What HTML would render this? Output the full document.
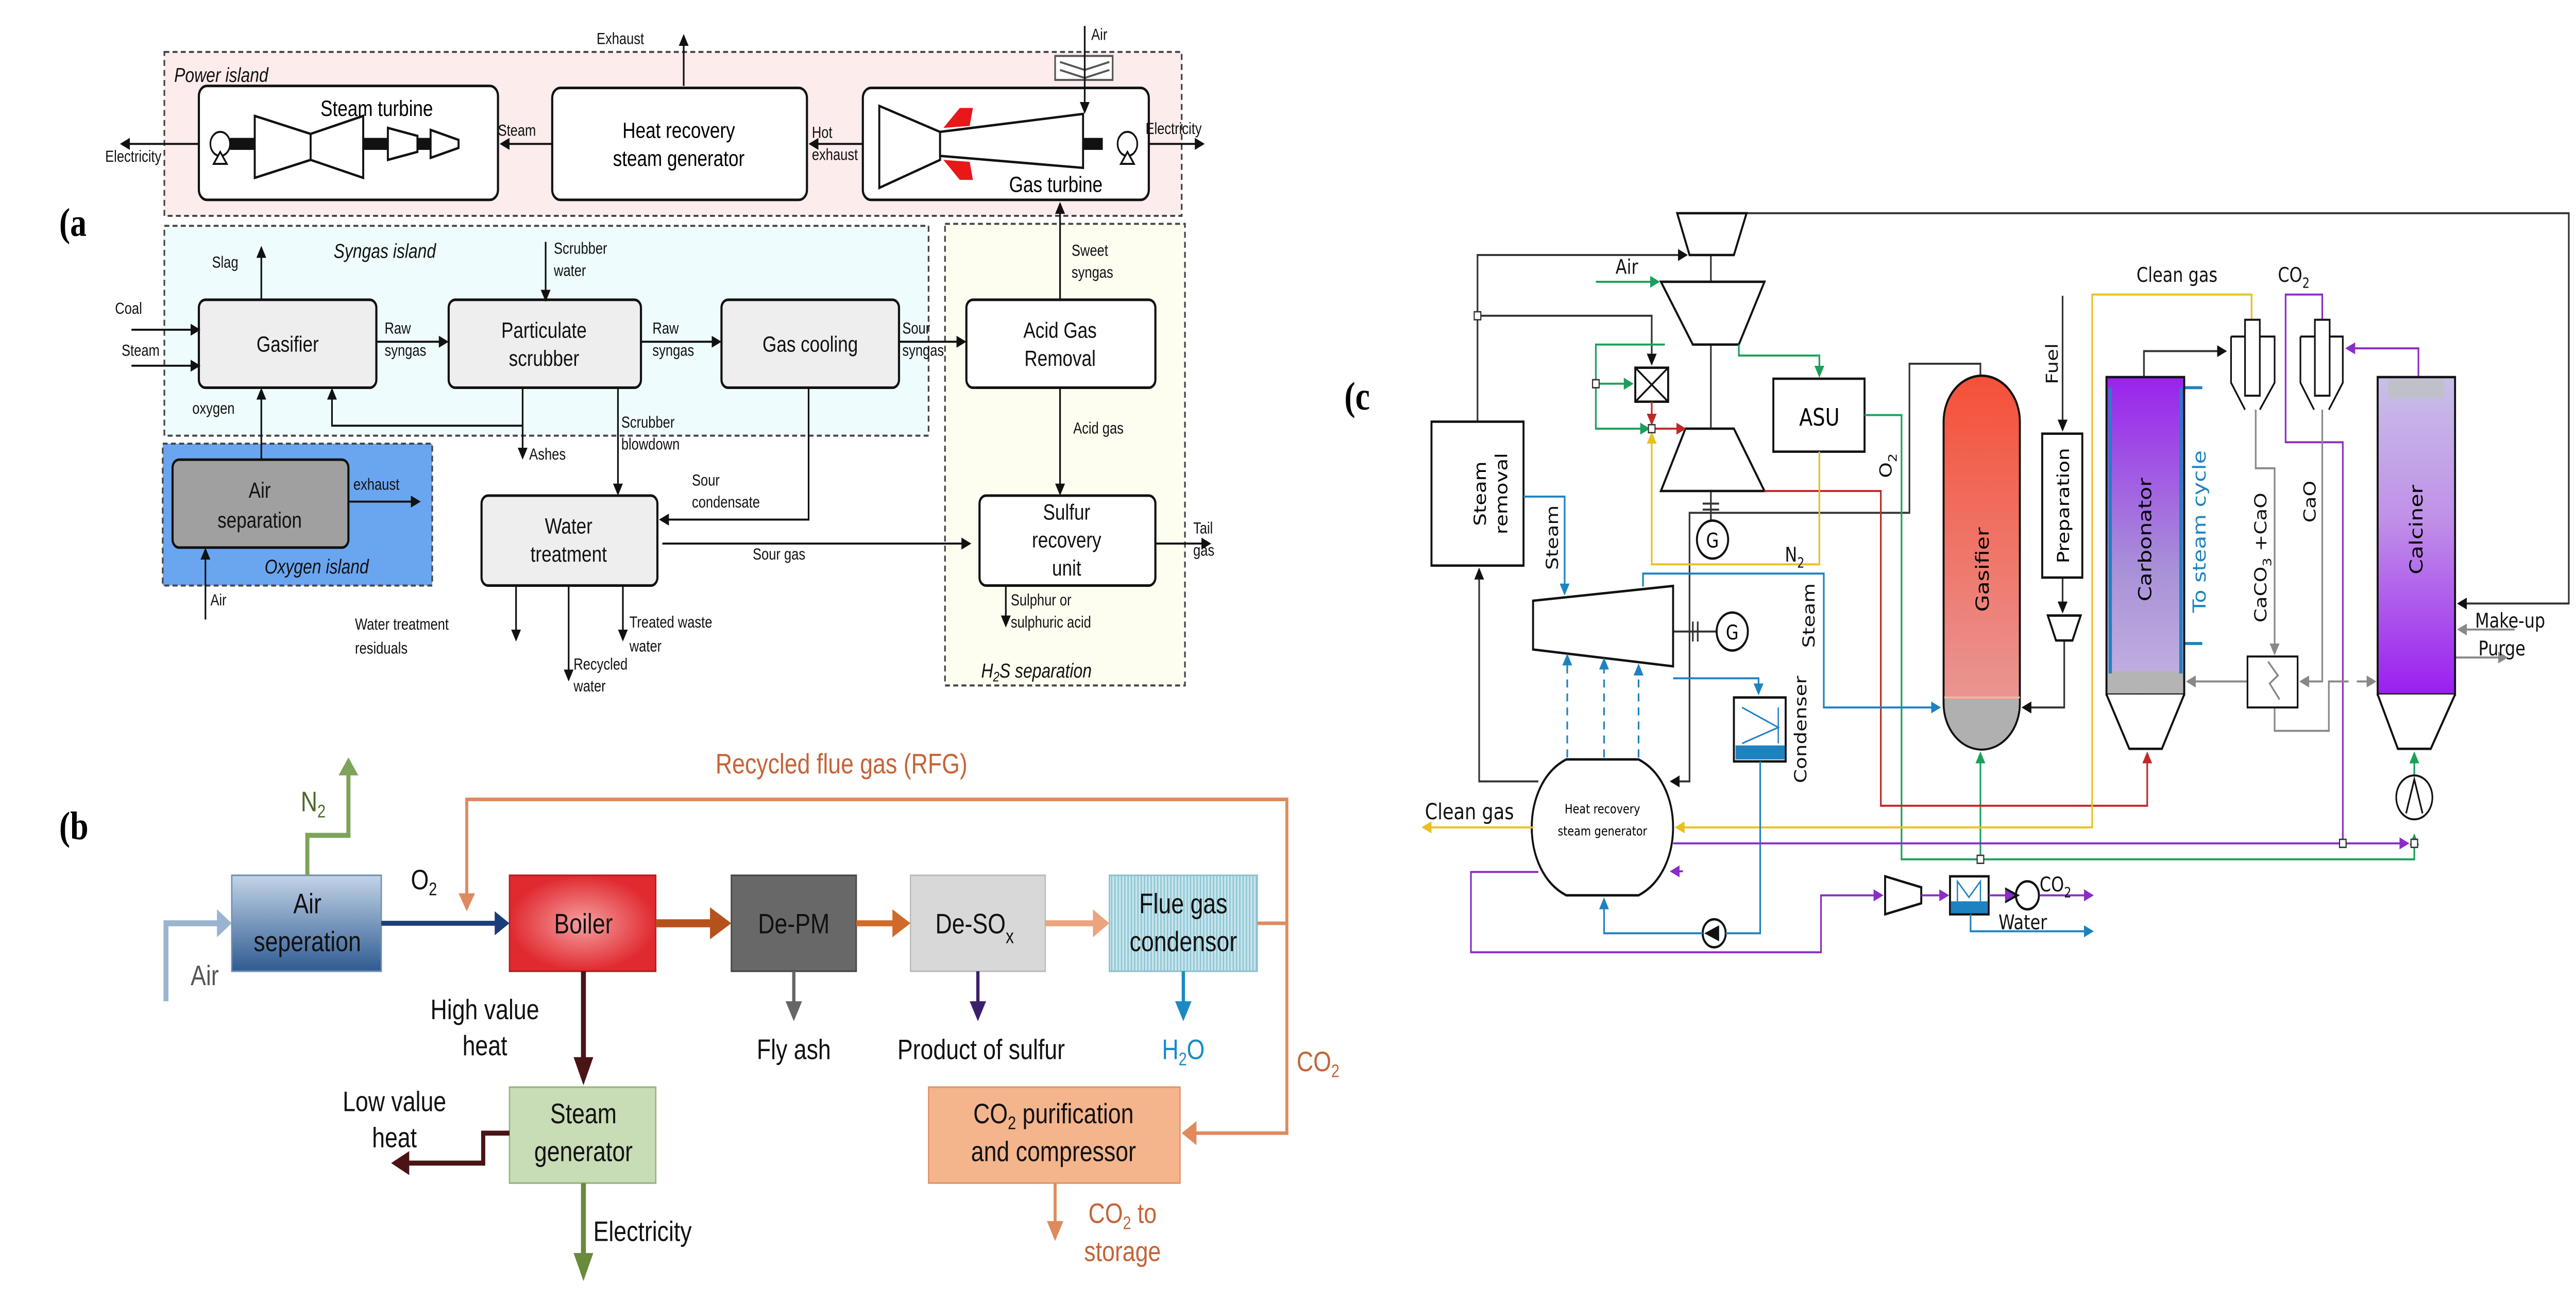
<!DOCTYPE html>
<html><head><meta charset="utf-8"><style>
html,body{margin:0;padding:0;background:#fff;width:6077px;height:2525px;overflow:hidden;}
svg{display:block;}
text{font-family:"Liberation Sans Narrow","Liberation Sans",sans-serif;}
.c text{font-family:"DejaVu Sans","Liberation Sans",sans-serif;}
</style></head><body>
<svg width="6077" height="2525" style="width:6077px;height:2525px" viewBox="0 0 1905 651" preserveAspectRatio="none" xmlns="http://www.w3.org/2000/svg">
<defs>
<marker id="ak" markerWidth="6" markerHeight="6" refX="5" refY="3" orient="auto" markerUnits="userSpaceOnUse"><path d="M0,0L6,3L0,6z" fill="#111"/></marker>
<marker id="ag" markerWidth="6" markerHeight="6" refX="5" refY="3" orient="auto" markerUnits="userSpaceOnUse"><path d="M0,0L6,3L0,6z" fill="#1aa05a"/></marker>
<marker id="ar" markerWidth="6" markerHeight="6" refX="5" refY="3" orient="auto" markerUnits="userSpaceOnUse"><path d="M0,0L6,3L0,6z" fill="#c0282a"/></marker>
<marker id="ay" markerWidth="6" markerHeight="6" refX="5" refY="3" orient="auto" markerUnits="userSpaceOnUse"><path d="M0,0L6,3L0,6z" fill="#e8c020"/></marker>
<marker id="ab" markerWidth="6" markerHeight="6" refX="5" refY="3" orient="auto" markerUnits="userSpaceOnUse"><path d="M0,0L6,3L0,6z" fill="#1f82c0"/></marker>
<marker id="ap" markerWidth="6" markerHeight="6" refX="5" refY="3" orient="auto" markerUnits="userSpaceOnUse"><path d="M0,0L6,3L0,6z" fill="#8a2cc8"/></marker>
<marker id="aG" markerWidth="6" markerHeight="6" refX="5" refY="3" orient="auto" markerUnits="userSpaceOnUse"><path d="M0,0L6,3L0,6z" fill="#888"/></marker>
<linearGradient id="gAir" x1="0" y1="0" x2="0" y2="1"><stop offset="0" stop-color="#c3d4e6"/><stop offset="1" stop-color="#2f5b92"/></linearGradient>
<radialGradient id="gBoil"><stop offset="0" stop-color="#f6a0a0"/><stop offset="1" stop-color="#e02a30"/></radialGradient>
<pattern id="stripe" width="2" height="4" patternUnits="userSpaceOnUse"><rect width="2" height="4" fill="#c6e6ee"/><rect width="0.8" height="4" fill="#8fc4d2"/></pattern>
<linearGradient id="gGas" x1="0" y1="0" x2="0" y2="1"><stop offset="0" stop-color="#f55038"/><stop offset="1" stop-color="#e8a0a0"/></linearGradient>
<linearGradient id="gCarb" x1="0" y1="0" x2="0" y2="1"><stop offset="0" stop-color="#9a22ee"/><stop offset="0.6" stop-color="#a890d8"/><stop offset="1" stop-color="#c4b4e0"/></linearGradient>
<linearGradient id="gCalc" x1="0" y1="0" x2="0" y2="1"><stop offset="0" stop-color="#c8c0e8"/><stop offset="0.45" stop-color="#c090e8"/><stop offset="1" stop-color="#9a1ef0"/></linearGradient>
</defs>

<!-- ================= PANEL A ================= -->
<text x="36" y="118" font-weight="bold" font-size="20" style="font-family:'Liberation Serif',serif">(a</text>
<rect x="100" y="26" width="619" height="82" fill="#fdecec" stroke="#444" stroke-width="1" stroke-dasharray="3,2"/>
<rect x="100" y="113" width="465" height="105" fill="#eefcfd" stroke="#444" stroke-width="1" stroke-dasharray="3,2"/>
<rect x="575" y="112" width="146" height="231" fill="#fdfdf0" stroke="#444" stroke-width="1" stroke-dasharray="3,2"/>
<rect x="99" y="222" width="164" height="71" fill="#6aa6f0" stroke="#444" stroke-width="1" stroke-dasharray="3,2"/>
<g font-size="9" fill="#111">
<text x="106" y="41" font-style="italic" font-size="10">Power island</text>
<text x="203" y="129" font-style="italic" font-size="10">Syngas island</text>
<text x="161" y="287" font-style="italic" font-size="10">Oxygen island</text>
<text x="597" y="339" font-style="italic" font-size="10">H<tspan font-size="7" dy="2">2</tspan><tspan dy="-2">S separation</tspan></text>
</g>
<rect x="121" y="43" width="182" height="57" rx="5" fill="#fff" stroke="#111" stroke-width="1.3"/>
<rect x="336" y="44" width="155" height="56" rx="5" fill="#fff" stroke="#111" stroke-width="1.3"/>
<rect x="525" y="44" width="174" height="56" rx="5" fill="#fff" stroke="#111" stroke-width="1.3"/>
<circle cx="134" cy="72" r="6" fill="#fff" stroke="#111"/><path d="M130,82h8l-4,-6z" fill="#fff" stroke="#111"/>
<rect x="140" y="69" width="15" height="6" fill="#111"/>
<path d="M155,58L189,67V80L155,89z M189,67L221,58V89L189,80z" fill="#fff" stroke="#111" stroke-width="1.2"/>
<rect x="221" y="69" width="15" height="6" fill="#111"/>
<path d="M236,64L254,68V76L236,80z" fill="#fff" stroke="#111" stroke-width="1.2"/>
<rect x="254" y="69" width="8" height="6" fill="#111"/>
<path d="M262,65L279,70V74L262,79z" fill="#fff" stroke="#111" stroke-width="1.2"/>
<text x="195" y="58" font-size="11">Steam turbine</text>
<text x="413" y="69" font-size="11" text-anchor="middle">Heat recovery</text>
<text x="413" y="83" font-size="11" text-anchor="middle">steam generator</text>
<path d="M535,53L572,66V80L535,94z" fill="#fff" stroke="#111" stroke-width="1.2"/>
<path d="M572,66L659,57V84L572,78z" fill="#fff" stroke="#111" stroke-width="1.2"/>
<path d="M574,64l10,-10h8l-2,9z M574,80l10,10h8l-2,-9z" fill="#e81818"/>
<rect x="659" y="69" width="12" height="6" fill="#111"/>
<circle cx="686" cy="72" r="6" fill="#fff" stroke="#111"/><path d="M682,82h8l-4,-6z" fill="#fff" stroke="#111"/>
<text x="614" y="96" font-size="11">Gas turbine</text>
<rect x="642" y="28" width="35" height="12" fill="#fff" stroke="#555"/>
<path d="M645,31l15,4l15,-4M645,35l15,4l15,-4" fill="none" stroke="#555"/>
<g stroke="#111" stroke-width="1" fill="none" marker-end="url(#ak)">
<line x1="416" y1="43" x2="416" y2="18"/>
<line x1="660" y1="13" x2="660" y2="56"/>
<line x1="121" y1="72" x2="74" y2="72"/>
<line x1="699" y1="72" x2="732" y2="72"/>
<line x1="336" y1="72" x2="305" y2="72"/>
<line x1="525" y1="72" x2="493" y2="72"/>
</g>
<g font-size="8" fill="#111">
<text x="363" y="22">Exhaust</text><text x="664" y="20">Air</text>
<text x="64" y="81">Electricity</text><text x="697" y="67">Electricity</text>
<text x="303" y="68">Steam</text><text x="494" y="69">Hot</text><text x="494" y="80">exhaust</text>
</g>
<g stroke="#111" stroke-width="1.3">
<rect x="121" y="150" width="108" height="44" rx="4" fill="#eee"/>
<rect x="273" y="150" width="117" height="44" rx="4" fill="#eee"/>
<rect x="439" y="150" width="108" height="44" rx="4" fill="#eee"/>
<rect x="588" y="150" width="115" height="44" rx="4" fill="#fff"/>
<rect x="105" y="230" width="107" height="44" rx="4" fill="#a0a0a0"/>
<rect x="293" y="248" width="107" height="45" rx="4" fill="#eee"/>
<rect x="596" y="248" width="107" height="45" rx="4" fill="#fff"/>
</g>
<g font-size="11" fill="#111" text-anchor="middle">
<text x="175" y="176">Gasifier</text>
<text x="331" y="169">Particulate</text><text x="331" y="183">scrubber</text>
<text x="493" y="176">Gas cooling</text>
<text x="645" y="169">Acid Gas</text><text x="645" y="183">Removal</text>
<text x="158" y="249">Air</text><text x="158" y="264">separation</text>
<text x="346" y="267">Water</text><text x="346" y="281">treatment</text>
<text x="649" y="260">Sulfur</text><text x="649" y="274">recovery</text><text x="649" y="288">unit</text>
</g>
<g stroke="#111" stroke-width="1" fill="none" marker-end="url(#ak)">
<line x1="159" y1="150" x2="159" y2="124"/>
<line x1="332" y1="121" x2="332" y2="150"/>
<line x1="80" y1="165" x2="121" y2="165"/>
<line x1="80" y1="183" x2="121" y2="183"/>
<line x1="229" y1="171" x2="272" y2="171"/>
<line x1="390" y1="171" x2="438" y2="171"/>
<line x1="547" y1="171" x2="587" y2="171"/>
<line x1="645" y1="150" x2="645" y2="102"/>
<line x1="645" y1="194" x2="645" y2="247"/>
<line x1="159" y1="230" x2="159" y2="195"/>
<polyline points="318,194 318,213 202,213 202,195"/>
<line x1="318" y1="213" x2="318" y2="229"/>
<line x1="376" y1="194" x2="376" y2="247"/>
<polyline points="492,194 492,260 402,260"/>
<line x1="403" y1="272" x2="590" y2="272"/>
<line x1="703" y1="272" x2="736" y2="272"/>
<line x1="612" y1="293" x2="612" y2="313"/>
<line x1="212" y1="251" x2="255" y2="251"/>
<line x1="125" y1="310" x2="125" y2="275"/>
<line x1="314" y1="293" x2="314" y2="320"/>
<line x1="346" y1="293" x2="346" y2="340"/>
<line x1="379" y1="293" x2="379" y2="320"/>
</g>
<g font-size="8" fill="#111">
<text x="129" y="134">Slag</text>
<text x="337" y="127">Scrubber</text><text x="337" y="138">water</text>
<text x="70" y="157">Coal</text><text x="74" y="178">Steam</text>
<text x="234" y="167">Raw</text><text x="234" y="178">syngas</text>
<text x="397" y="167">Raw</text><text x="397" y="178">syngas</text>
<text x="549" y="167">Sour</text><text x="549" y="178">syngas</text>
<text x="652" y="128">Sweet</text><text x="652" y="139">syngas</text>
<text x="653" y="217">Acid gas</text>
<text x="117" y="207">oxygen</text>
<text x="322" y="230">Ashes</text>
<text x="378" y="214">Scrubber</text><text x="378" y="225">blowdown</text>
<text x="421" y="243">Sour</text><text x="421" y="254">condensate</text>
<text x="458" y="280">Sour gas</text>
<text x="726" y="267">Tail</text><text x="726" y="278">gas</text>
<text x="615" y="303">Sulphur or</text><text x="615" y="314">sulphuric acid</text>
<text x="215" y="245">exhaust</text>
<text x="128" y="303">Air</text>
<text x="216" y="315">Water treatment</text><text x="216" y="327">residuals</text>
<text x="349" y="335">Recycled</text><text x="349" y="346">water</text>
<text x="383" y="314">Treated waste</text><text x="383" y="326">water</text>
</g>

<!-- ================= PANEL B ================= -->
<text x="36" y="420" font-weight="bold" font-size="20" style="font-family:'Liberation Serif',serif">(b</text>
<rect x="141" y="438" width="91" height="48" fill="url(#gAir)" stroke="#6d8fb5" stroke-width="0.8"/>
<rect x="310" y="438" width="89" height="48" fill="url(#gBoil)" stroke="#b01c20" stroke-width="0.8"/>
<rect x="445" y="438" width="76" height="48" fill="#686868" stroke="#444" stroke-width="0.8"/>
<rect x="554" y="438" width="82" height="48" fill="#d8d8d8" stroke="#bbb" stroke-width="0.8"/>
<rect x="675" y="438" width="90" height="48" fill="url(#stripe)" stroke="#8fbfcc" stroke-width="0.8"/>
<rect x="310" y="544" width="89" height="48" fill="#c8dcb5" stroke="#97b37c" stroke-width="0.8"/>
<rect x="565" y="544" width="153" height="48" fill="#f4b48c" stroke="#e09466" stroke-width="0.8"/>
<g font-size="14" fill="#111" text-anchor="middle">
<text x="187" y="457">Air</text><text x="187" y="476">seperation</text>
<text x="355" y="467">Boiler</text>
<text x="483" y="467">De-PM</text>
<text x="593" y="467">De-SO<tspan font-size="10" dy="5">x</tspan></text>
<text x="720" y="457">Flue gas</text><text x="720" y="476">condensor</text>
<text x="355" y="562">Steam</text><text x="355" y="581">generator</text>
<text x="641" y="562">CO<tspan font-size="9" dy="3">2</tspan><tspan dy="-3"> purification</tspan></text><text x="641" y="581">and compressor</text>
</g>
<polyline points="101,501 101,462 133,462" fill="none" stroke="#9ab4d0" stroke-width="3"/>
<path d="M132,455l9,7l-9,7z" fill="#9ab4d0"/>
<polyline points="187,438 187,418 212,418 212,386" fill="none" stroke="#7ea35a" stroke-width="2.5"/>
<path d="M206,388l6,-9l6,9z" fill="#7ea35a"/>
<line x1="232" y1="462" x2="302" y2="462" stroke="#1c3e78" stroke-width="2.5"/>
<path d="M301,456l9,6l-9,6z" fill="#1c3e78"/>
<line x1="399" y1="462" x2="434" y2="462" stroke="#b5521c" stroke-width="4"/>
<path d="M432,454l13,8l-13,8z" fill="#b5521c"/>
<line x1="521" y1="462" x2="545" y2="462" stroke="#d06a2a" stroke-width="3"/>
<path d="M543,455l11,7l-11,7z" fill="#d06a2a"/>
<line x1="636" y1="462" x2="666" y2="462" stroke="#eaa47e" stroke-width="3"/>
<path d="M665,455l10,7l-10,7z" fill="#eaa47e"/>
<polyline points="765,462 783,462 783,400 284,400 284,448" fill="none" stroke="#df8a5c" stroke-width="1.8"/>
<path d="M279,447l5,9l5,-9z" fill="#df8a5c"/>
<polyline points="783,462 783,567 727,567" fill="none" stroke="#df8a5c" stroke-width="1.8"/>
<path d="M728,561l-9,6l9,6z" fill="#df8a5c"/>
<text x="512" y="387" font-size="14" fill="#c46438" text-anchor="middle">Recycled flue gas (RFG)</text>
<text x="789" y="536" font-size="14" fill="#c46438">CO<tspan font-size="9" dy="3">2</tspan></text>
<line x1="483" y1="486" x2="483" y2="502" stroke="#666" stroke-width="2"/><path d="M478,501l5,10l5,-10z" fill="#666"/>
<line x1="595" y1="486" x2="595" y2="502" stroke="#3b1f6b" stroke-width="2"/><path d="M590,501l5,10l5,-10z" fill="#3b1f6b"/>
<line x1="720" y1="486" x2="720" y2="502" stroke="#1a8ac4" stroke-width="2"/><path d="M715,501l5,10l5,-10z" fill="#1a8ac4"/>
<line x1="355" y1="486" x2="355" y2="530" stroke="#4a1414" stroke-width="3"/><path d="M349,529l6,14l6,-14z" fill="#4a1414"/>
<polyline points="310,567 294,567 294,582 248,582" fill="none" stroke="#4a1414" stroke-width="2.5"/><path d="M249,576l-11,6l11,6z" fill="#4a1414"/>
<line x1="355" y1="592" x2="355" y2="628" stroke="#6a8a3c" stroke-width="3"/><path d="M349,627l6,14l6,-14z" fill="#6a8a3c"/>
<line x1="642" y1="592" x2="642" y2="612" stroke="#df8a5c" stroke-width="1.8"/><path d="M637,611l5,10l5,-10z" fill="#df8a5c"/>
<g font-size="14" fill="#111">
<text x="250" y="445">O<tspan font-size="9" dy="3">2</tspan></text>
<text x="116" y="493" fill="#555">Air</text>
<text x="183" y="406" fill="#4a6a2a">N<tspan font-size="9" dy="3">2</tspan></text>
<text x="483" y="530" text-anchor="middle">Fly ash</text>
<text x="597" y="530" text-anchor="middle">Product of sulfur</text>
<text x="720" y="530" text-anchor="middle" fill="#1a8ac4">H<tspan font-size="9" dy="3">2</tspan><tspan dy="-3">O</tspan></text>
<text x="295" y="510" text-anchor="middle">High value</text><text x="295" y="528" text-anchor="middle">heat</text>
<text x="240" y="556" text-anchor="middle">Low value</text><text x="240" y="574" text-anchor="middle">heat</text>
<text x="361" y="621">Electricity</text>
<text x="683" y="612" text-anchor="middle" fill="#c46438">CO<tspan font-size="9" dy="3">2</tspan><tspan dy="-3"> to</tspan></text>
<text x="683" y="631" text-anchor="middle" fill="#c46438">storage</text>
</g>

<!-- ================= PANEL C ================= -->
<g class="c">
<text x="818" y="205" font-weight="bold" font-size="20" style="font-family:'Liberation Serif',serif">(c</text>
<g stroke="#333" stroke-width="1" fill="none">
<polyline points="1062,106.7 1563,106.7 1563,302 1496,302" marker-end="url(#ak)"/>
<polyline points="899,211 899,127.6 1026,127.6" marker-end="url(#ak)"/>
<polyline points="899,158 1005,158 1005,182" marker-end="url(#ak)"/>
<line x1="1041" y1="127.6" x2="1041" y2="141"/>
<line x1="1041" y1="172.4" x2="1041" y2="214.5"/>
<line x1="1041" y1="245.7" x2="1041" y2="260"/>
<line x1="1036" y1="252" x2="1046" y2="252"/><line x1="1036" y1="255" x2="1046" y2="255"/>
<polyline points="1205,188.7 1205,182 1161.8,182 1161.8,256.6 1028,256.6 1028,391 1017,391" marker-end="url(#ak)"/>
<polyline points="1255,148 1255,215" marker-end="url(#ak)"/>
<polyline points="1255,289 1255,306" marker-end="url(#ak)"/>
<polyline points="1256,320.5 1256,354 1231,354" marker-end="url(#ak)"/>
<polyline points="936,391 900,391 900,285" marker-end="url(#ak)"/>
<polyline points="1304.5,188.7 1304.5,175.7 1354,175.7" marker-end="url(#ak)"/>
<line x1="1018" y1="316" x2="1044" y2="316"/><line x1="1030" y1="311" x2="1030" y2="321"/><line x1="1033" y1="311" x2="1033" y2="321"/>
</g>
<g fill="#fff" stroke="#111" stroke-width="1.2">
<path d="M1020.5,106.7H1062.7L1055,127.6H1028z"/>
<path d="M1010.6,141H1073.6L1058,172.4H1030z"/>
<path d="M1025.5,214.5H1055L1073.6,245.7H1010.6z"/>
<circle cx="1042" cy="270" r="9.5"/>
<rect x="871" y="211" width="56" height="72"/>
<rect x="995" y="184" width="20" height="17"/>
<path d="M932.8,300.6L1018,293.2V333.4L932.8,325z"/>
<circle cx="1054" cy="316" r="9.5"/>
<rect x="1079" y="189.5" width="55.5" height="36.5"/>
<rect x="1242.6" y="217" width="24.4" height="72"/>
<path d="M1246,308H1266L1261,320.5H1251z"/>
<rect x="1055" y="349" width="31.5" height="32"/>
<path d="M1147,438.5L1169,444V452L1147,457.5z"/>
<rect x="1186.5" y="438.5" width="23.5" height="19"/>
<circle cx="1233.6" cy="448" r="7"/>
<circle cx="1043" cy="467" r="7"/>
</g>
<path d="M995,184L1015,201M1015,184L995,201" stroke="#111"/>
<text x="1042" y="274" font-size="10" text-anchor="middle">G</text>
<text x="1054" y="320" font-size="10" text-anchor="middle">G</text>
<text x="1107" y="213" font-size="12" text-anchor="middle">ASU</text>
<text transform="translate(904,247) rotate(-90)" font-size="10" text-anchor="middle">Steam</text>
<text transform="translate(917,247) rotate(-90)" font-size="10" text-anchor="middle">removal</text>
<text transform="translate(1259,253) rotate(-90)" font-size="10" text-anchor="middle">Preparation</text>
<path d="M1229,448l-9,-4v8z" fill="#111"/><path d="M1037,467l9,-4v8z" fill="#111"/>
<rect x="1056" y="373" width="30" height="7" fill="#1f82c0"/>
<path d="M1060,354L1082,364L1060,372M1082,354V372" fill="none" stroke="#1f82c0" stroke-width="0.8"/>
<rect x="1187" y="451" width="22.5" height="6" fill="#1f82c0"/>
<path d="M1191,451V441L1198,449L1205,441V451" fill="none" stroke="#1f82c0" stroke-width="0.8"/>
<path d="M953,380H997C1025,392 1025,436 997,448H953C925,436 925,392 953,380z" fill="#fff" stroke="#111" stroke-width="1.2"/>
<text x="975" y="407" font-size="6.5" text-anchor="middle">Heat recovery</text>
<text x="975" y="418" font-size="6.5" text-anchor="middle">steam generator</text>
<g stroke="#1aa05a" stroke-width="1" fill="none">
<line x1="971" y1="141" x2="1009" y2="141" marker-end="url(#ag)"/>
<polyline points="1013,172.4 971,172.4 971,214.5 1003,214.5" marker-end="url(#ag)"/>
<line x1="971" y1="192" x2="993" y2="192" marker-end="url(#ag)"/>
<polyline points="1058,172.4 1058,177.9 1107,177.9 1107,188" marker-end="url(#ag)"/>
<polyline points="1134.5,207.7 1157,207.7 1157,430 1469,430 1469,418" marker-end="url(#ag)"/>
<line x1="1205" y1="430" x2="1205" y2="377" marker-end="url(#ag)"/>
<line x1="1469" y1="388" x2="1469" y2="377" marker-end="url(#ag)"/>
</g>
<line x1="1005" y1="201" x2="1005" y2="212" stroke="#c0282a" marker-end="url(#ar)"/>
<line x1="1007" y1="214.5" x2="1025" y2="214.5" stroke="#c0282a" marker-end="url(#ar)"/>
<polyline points="1073.6,245.7 1144.4,245.7 1144.4,403.2 1306.5,403.2 1306.5,377" fill="none" stroke="#c0282a" marker-end="url(#ar)"/>
<polyline points="1107,226 1107,282.4 1005,282.4 1005,217" fill="none" stroke="#e8c020" marker-end="url(#ay)"/>
<polyline points="1370,160 1370,147.4 1273,147.4 1273,414 1020,414" fill="none" stroke="#e8c020" marker-end="url(#ay)"/>
<line x1="933" y1="414" x2="866" y2="414" stroke="#e8c020" marker-end="url(#ay)"/>
<g stroke="#1f82c0" stroke-width="1" fill="none">
<polyline points="927,248.5 952,248.5 952,297" marker-end="url(#ab)"/>
<polyline points="999.7,293.5 999.7,287 1109.7,287 1109.7,354 1180,354" marker-end="url(#ab)"/>
<polyline points="1018,339.4 1070,339.4 1070,347" marker-end="url(#ab)"/>
<polyline points="1071,381 1071,467 1050,467"/>
<polyline points="1036,467 976,467 976,450" marker-end="url(#ab)"/>
<polyline points="1199,457.5 1199,466 1273,466" marker-end="url(#ab)"/>
<g stroke-dasharray="4,3"><line x1="953.6" y1="379" x2="953.6" y2="328" marker-end="url(#ab)"/><line x1="976" y1="379" x2="976" y2="330" marker-end="url(#ab)"/><line x1="997" y1="379" x2="997" y2="333" marker-end="url(#ab)"/></g>
<line x1="1329" y1="194" x2="1340" y2="194" stroke-width="1.5"/><line x1="1329" y1="322" x2="1340" y2="322" stroke-width="1.5"/>
</g>
<g stroke="#8a2cc8" stroke-width="1" fill="none">
<polyline points="1413,160 1413,147.4 1390.7,147.4 1390.7,221.3 1425.5,221.3 1425.5,422"/>
<line x1="1018" y1="422" x2="1465" y2="422" marker-end="url(#ap)"/>
<polyline points="1471.5,188.7 1471.5,174.3 1428,174.3" marker-end="url(#ap)"/>
<polyline points="936,436.3 895,436.3 895,476.5 1108,476.5 1108,448 1145,448" marker-end="url(#ap)"/>
<line x1="1169" y1="448" x2="1185" y2="448" marker-end="url(#ap)"/>
<line x1="1210" y1="448" x2="1225" y2="448" marker-end="url(#ap)"/>
<line x1="1241" y1="448" x2="1273" y2="448" marker-end="url(#ap)"/>
<line x1="1024" y1="436" x2="1017" y2="436" marker-end="url(#ap)"/>
</g>
<g stroke="#888" stroke-width="1" fill="none">
<polyline points="1372.5,205 1372.5,234.3 1384,234.3 1384,327" marker-end="url(#aG)"/>
<polyline points="1413,205 1413,341 1400,341" marker-end="url(#aG)"/>
<line x1="1367.5" y1="341" x2="1331" y2="341" marker-end="url(#aG)"/>
<polyline points="1384,354 1384,365.7 1417,365.7 1417,341 1429,341"/>
<line x1="1434" y1="341" x2="1445" y2="341" marker-end="url(#aG)"/>
<line x1="1530" y1="315" x2="1496" y2="315" marker-end="url(#aG)"/>
<line x1="1494" y1="329" x2="1525" y2="329" marker-end="url(#aG)"/>
</g>
<rect x="1367.5" y="328.5" width="30.5" height="25.5" fill="#fff" stroke="#111"/>
<path d="M1380,331l6,7l-5,4l6,8" fill="none" stroke="#888"/>
<path d="M1182.6,211A23.2,23 0 0 1 1229,211V352A23.2,23 0 0 1 1182.6,352z" fill="url(#gGas)" stroke="#111" stroke-width="1.2"/>
<path d="M1183.2,350H1228.4V352A22.6,22.6 0 0 1 1183.2,352z" fill="#b0b0b0"/>
<line x1="1183" y1="349" x2="1229" y2="349" stroke="#e0c0a0"/>
<text transform="translate(1210,285) rotate(-90)" font-size="11" text-anchor="middle">Gasifier</text>
<rect x="1281.7" y="188.7" width="47.3" height="158.8" fill="url(#gCarb)" stroke="#111" stroke-width="1.2"/>
<rect x="1282.5" y="336" width="45.7" height="11" fill="#b4b4b4"/>
<line x1="1284" y1="194" x2="1284" y2="337" stroke="#1f82c0" stroke-width="2"/><line x1="1327" y1="194" x2="1327" y2="337" stroke="#1f82c0" stroke-width="2"/>
<line x1="1281.7" y1="347.5" x2="1329" y2="347.5" stroke="#111" stroke-dasharray="2,1"/>
<path d="M1281.7,347.5L1295.6,374.7H1315.4L1329,347.5" fill="#fff" stroke="#111" stroke-width="1.2"/>
<text transform="translate(1309,270) rotate(-90)" font-size="11" text-anchor="middle">Carbonator</text>
<text transform="translate(1342,266) rotate(-90)" font-size="11" text-anchor="middle" fill="#1f82c0">To steam cycle</text>
<rect x="1446.7" y="188.7" width="47.1" height="158.8" fill="url(#gCalc)" stroke="#111" stroke-width="1.2"/>
<rect x="1453" y="190" width="34" height="9" fill="#c0c0c8"/>
<line x1="1446.7" y1="347.5" x2="1493.8" y2="347.5" stroke="#111" stroke-dasharray="2,1"/>
<path d="M1446.7,347.5L1459,374.7H1479L1493.8,347.5" fill="#fff" stroke="#111" stroke-width="1.2"/>
<text transform="translate(1474,265) rotate(-90)" font-size="11" text-anchor="middle">Calciner</text>
<g fill="#fff" stroke="#111" stroke-width="1">
<path d="M1357.5,168.4H1384V191.5L1375,205M1357.5,168.4V191.5L1366,205"/>
<rect x="1366" y="160" width="9" height="38"/>
<path d="M1399.7,168.4H1425.5V191.5L1417,205M1399.7,168.4V191.5L1408,205"/>
<rect x="1408.5" y="160" width="9" height="38"/>
<circle cx="1469" cy="399" r="11"/>
</g>
<path d="M1464,407L1469,390L1474,407" fill="none" stroke="#111"/>
<g fill="#fff" stroke="#333" stroke-width="0.7"><rect x="1467" y="420" width="4" height="4"/><rect x="1423.5" y="420" width="4" height="4"/><rect x="1203" y="428" width="4" height="4"/><rect x="897" y="156" width="4" height="4"/><rect x="969" y="190" width="4" height="4"/><rect x="1003" y="212.5" width="4" height="4"/></g>
<g font-size="10" fill="#111">
<text x="983" y="137">Air</text>
<text x="1300" y="141">Clean gas</text>
<text x="1386" y="141">CO<tspan font-size="7" dy="3">2</tspan></text>
<text x="867" y="410" font-size="11">Clean gas</text>
<text x="1086" y="281">N<tspan font-size="7" dy="3">2</tspan></text>
<text x="1506" y="314">Make-up</text>
<text x="1508" y="328">Purge</text>
<text x="1241" y="446">CO<tspan font-size="7" dy="3">2</tspan></text>
<text x="1216" y="465">Water</text>
<text transform="translate(1151,233) rotate(-90)" text-anchor="middle">O<tspan font-size="7" dy="3">2</tspan></text>
<text transform="translate(1252,182) rotate(-90)" text-anchor="middle">Fuel</text>
<text transform="translate(948,269) rotate(-90)" text-anchor="middle">Steam</text>
<text transform="translate(1104,308) rotate(-90)" text-anchor="middle">Steam</text>
<text transform="translate(1099,365) rotate(-90)" text-anchor="middle">Condenser</text>
<text transform="translate(1379,279) rotate(-90)" text-anchor="middle">CaCO<tspan font-size="7" dy="3">3</tspan><tspan dy="-3"> +CaO</tspan></text>
<text transform="translate(1409,251) rotate(-90)" text-anchor="middle">CaO</text>
</g>
</g>
</svg>
</body></html>
